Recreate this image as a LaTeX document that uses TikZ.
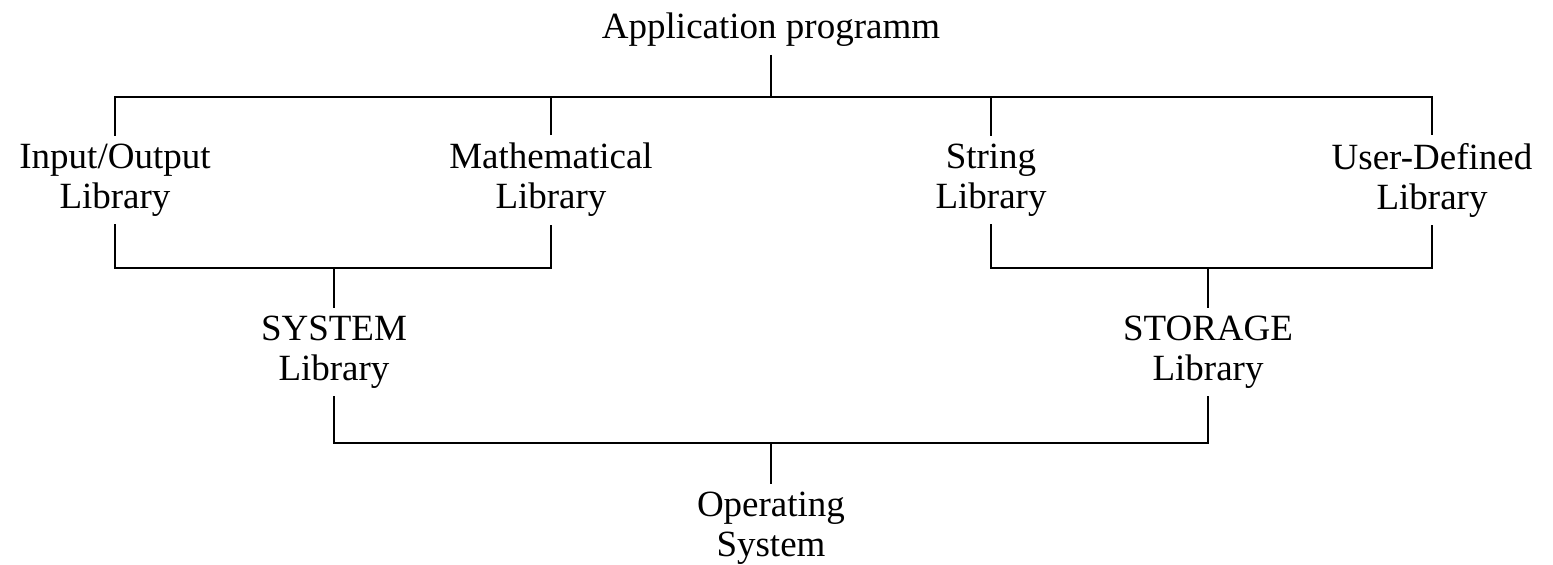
\documentclass[tikz,border=0pt]{standalone}
\usepackage{fontspec}
\setmainfont{Liberation Serif}
\begin{document}
\begin{tikzpicture}[x=0.5pt,y=-0.5pt,
  lbl/.style={align=center,inner sep=0pt,outer sep=4pt,font=\fontsize{18.5}{20}\selectfont},
  conn/.style={line width=1.2pt,line join=miter}]
\useasboundingbox (0,0) rectangle (1553,564);
\node[lbl] (app) at (771,30) {Application programm};
\node[lbl] (io) at (115,180) {Input/Output\\Library};
\node[lbl] (math) at (551,180) {Mathematical\\Library};
\node[lbl] (str) at (991,180) {String\\Library};
\node[lbl] (user) at (1432,180) {User-Defined\\Library};
\node[lbl] (sys) at (334,352) {SYSTEM\\Library};
\node[lbl] (stor) at (1208,352) {STORAGE\\Library};
\node[lbl] (os) at (771,528) {Operating\\System};
\coordinate (tb) at (771,97);
\coordinate (lb) at (334,268);
\coordinate (rb) at (1208,268);
\coordinate (ob) at (771,443);
\draw[conn] (io.north) |- (tb) -| (user.north);
\draw[conn] (app.south) -- (tb);
\draw[conn] (math.north) -- (math.north |- tb);
\draw[conn] (str.north) -- (str.north |- tb);
\draw[conn] (io.south) |- (lb) -| (math.south);
\draw[conn] (lb) -- (sys.north);
\draw[conn] (str.south) |- (rb) -| (user.south);
\draw[conn] (rb) -- (stor.north);
\draw[conn] (sys.south) |- (ob) -| (stor.south);
\draw[conn] (ob) -- (os.north);
\end{tikzpicture}
\end{document}
